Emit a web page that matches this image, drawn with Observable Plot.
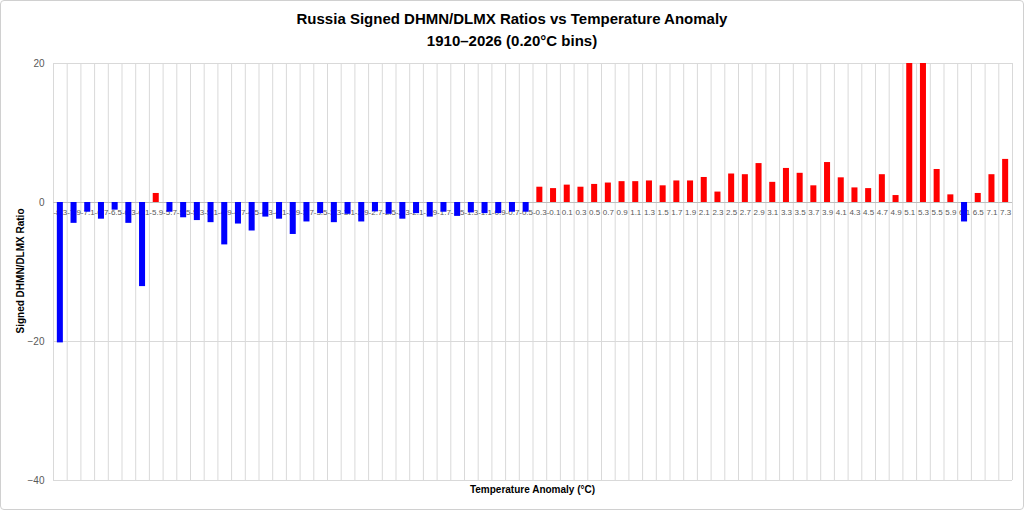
<!DOCTYPE html>
<html>
<head>
<meta charset="utf-8">
<script src="https://cdn.jsdelivr.net/npm/d3@7"></script>
<script src="https://cdn.jsdelivr.net/npm/@observablehq/plot@0.6"></script>
<style>
  html, body { margin: 0; padding: 0; background: #fff; }
  #wrap { position: relative; width: 1024px; height: 510px; overflow: hidden; font-family: "Liberation Sans", Arial, sans-serif; }
  #border { position: absolute; left: 0; top: 0; width: 1024px; height: 510px; box-sizing: border-box; border: 1px solid #d0d0d0; border-radius: 4px; pointer-events: none; }
  .title { position: absolute; left: 0; width: 1024px; text-align: center; font-weight: bold; font-size: 15px; color: #000; }
  #chart { position: absolute; left: 0; top: 0; }
  #ytitle { position: absolute; left: 20px; top: 271px; transform: translate(-50%, -50%) rotate(-90deg); font-weight: bold; font-size: 10px; white-space: nowrap; color: #000; }
  #xtitle { position: absolute; left: 0; top: 484px; width: 1065px; text-align: center; font-weight: bold; font-size: 10px; color: #000; }
</style>
</head>
<body>
<div id="wrap">
  <div id="chart"></div>
  <div class="title" style="top:10px">Russia Signed DHMN/DLMX Ratios vs Temperature Anomaly</div>
  <div class="title" style="top:32px">1910–2026 (0.20°C bins)</div>
  <div id="ytitle">Signed DHMN/DLMX Ratio</div>
  <div id="xtitle">Temperature Anomaly (°C)</div>
  <div id="border"></div>
</div>
<script>
const temps = ["-8.3","-7.9","-7.1","-6.7","-6.5","-6.3","-6.1","-5.9","-5.7","-5.5","-5.3","-5.1","-4.9","-4.7","-4.5","-4.3","-4.1","-3.9","-3.7","-3.5","-3.3","-3.1","-2.9","-2.7","-2.5","-2.3","-2.1","-1.9","-1.7","-1.5","-1.3","-1.1","-0.9","-0.7","-0.5","-0.3","-0.1","0.1","0.3","0.5","0.7","0.9","1.1","1.3","1.5","1.7","1.9","2.1","2.3","2.5","2.7","2.9","3.1","3.3","3.5","3.7","3.9","4.1","4.3","4.5","4.7","4.9","5.1","5.3","5.5","5.9","6.1","6.5","7.1","7.3"];
const ratios = [-20.2,-3.0,-1.4,-2.4,-1.1,-3.0,-12.1,1.3,-1.4,-2.2,-2.6,-2.9,-6.1,-3.1,-4.1,-2.1,-2.4,-4.6,-2.8,-1.6,-2.9,-1.7,-2.8,-1.35,-1.7,-2.4,-1.6,-2.1,-1.4,-2.0,-1.5,-1.6,-1.6,-1.4,-1.4,
  2.2,2.0,2.5,2.2,2.6,2.8,3.0,3.0,3.1,2.4,3.1,3.1,3.6,1.5,4.1,4.0,5.6,2.9,4.9,4.2,2.4,5.75,3.55,2.1,2.0,4.0,1.0,26,26,4.75,1.1,-2.8,1.3,4.0,6.2];
const yTicks = [20, 0, -20, -40];
const posColor = "#ff0000";
const negColor = "#0000ff";

const data = temps.map((t, i) => ({t, i, v: ratios[i]}));
const bounds = d3.range(temps.length + 1);

const chart = Plot.plot({
  width: 1024,
  height: 510,
  marginLeft: 53,
  marginRight: 12,
  marginTop: 63,
  marginBottom: 30,
  style: {fontFamily: "'Liberation Sans', Arial, sans-serif", background: "transparent"},
  x: {domain: [0, temps.length], axis: null},
  y: {domain: [-40, 20], axis: null},
  marks: [
    Plot.ruleY(yTicks.filter(d => d !== 0), {stroke: "#d9d9d9", strokeWidth: 1}),
    Plot.ruleX(bounds, {stroke: "#d9d9d9", strokeWidth: 1}),
    Plot.ruleY([0], {stroke: "#bfbfbf", strokeWidth: 1}),
    Plot.text(data, {x: d => d.i + 0.5, y: 0, text: "t", dy: 10, fontSize: 8, fill: "#595959"}),
    Plot.rectY(data, {x1: d => d.i + 0.28, x2: d => d.i + 0.72, y: "v", fill: d => d.v > 0 ? posColor : negColor, clip: true}),
    Plot.axisY({ticks: yTicks, tickSize: 0, tickPadding: 9, fontSize: 10, label: null, color: "#595959"})
  ]
});
document.getElementById("chart").appendChild(chart);
</script>
</body>
</html>
